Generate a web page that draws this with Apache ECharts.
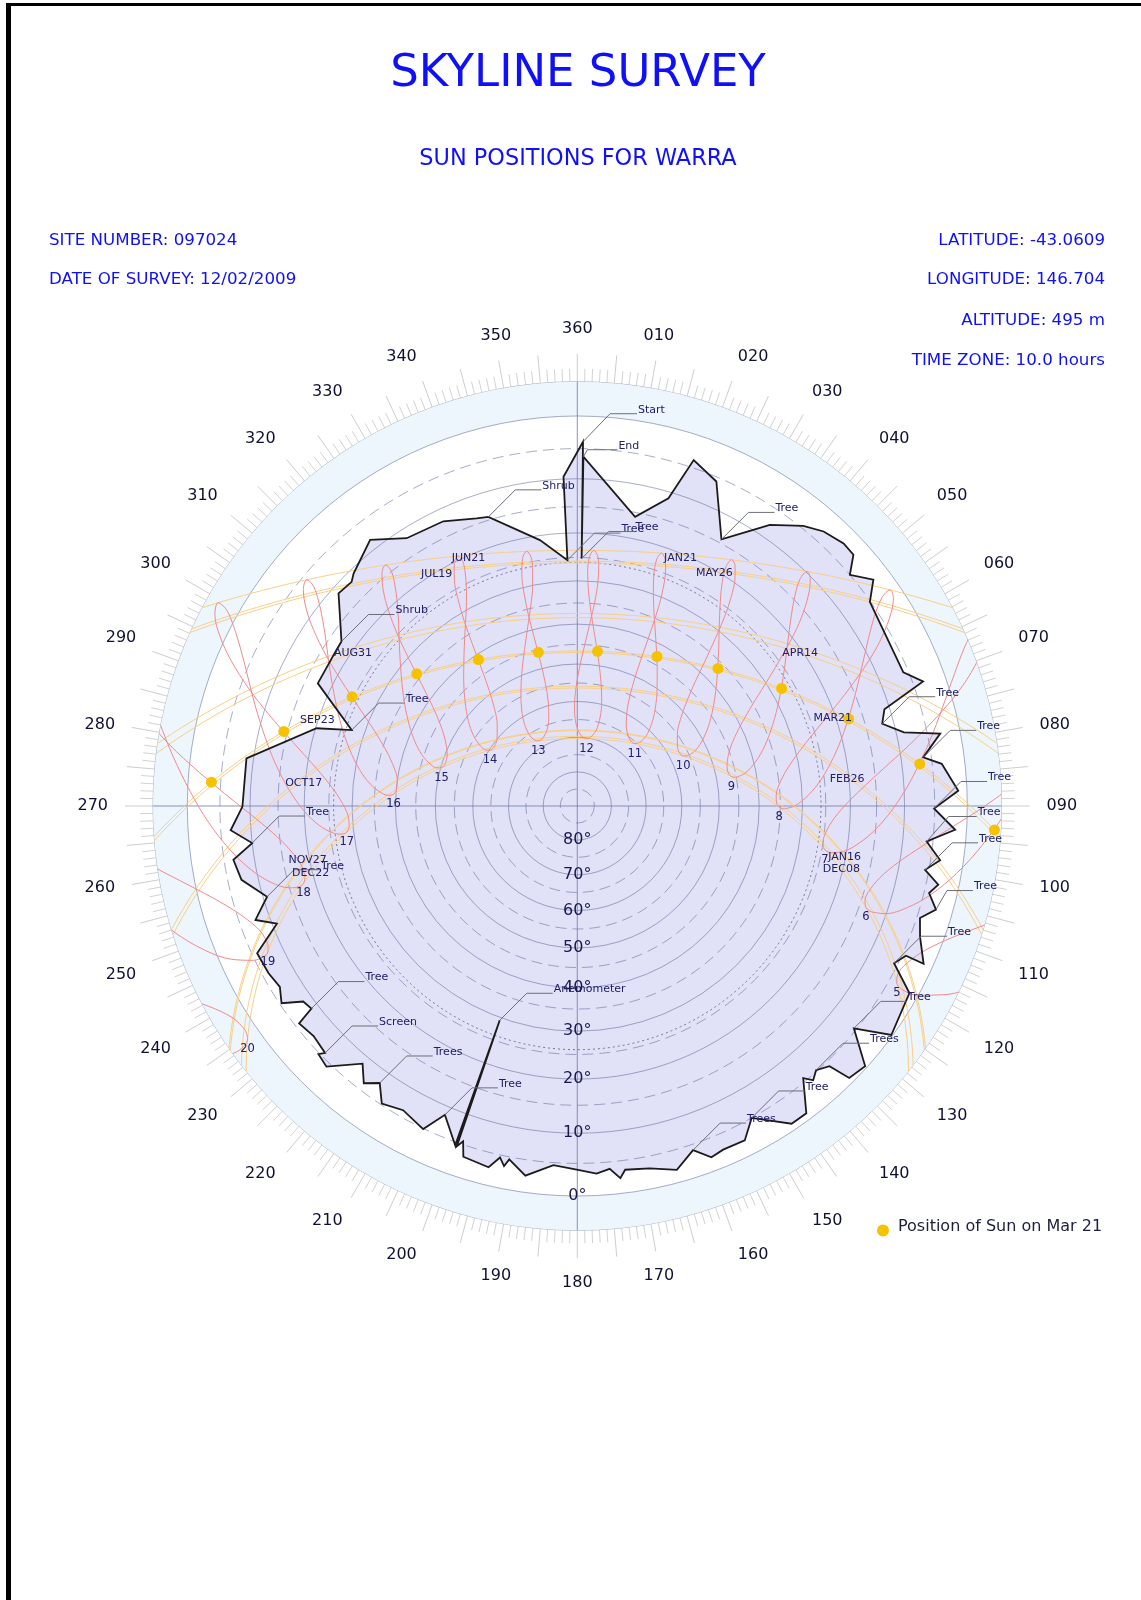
<!DOCTYPE html>
<html>
<head>
<meta charset="utf-8">
<script src="https://cdn.jsdelivr.net/npm/echarts@6/dist/echarts.min.js"></script>
<style>
  html, body { margin: 0; padding: 0; background: #fff; }
  #frame { position: absolute; left: 6px; top: 3px; width: 1300px; height: 1700px;
           border-left: 5px solid #000; border-top: 3px solid #000; }
  #chart { position: absolute; left: 0; top: 0; width: 1141px; height: 1600px; }
</style>
</head>
<body>
<div id="frame"></div>
<div id="chart"></div>
<script>
"use strict";

// site values printed on the chart
var SITE_LAT = -43.0609, SITE_LON = 146.704, SITE_TZ = 10.0;

// skyline: azimuth (deg) / elevation (deg) of the horizon, from Start going west
var SKY_AZ = [0.9, 357.6, 357.7, 352.0, 342.9, 340.7, 334.8, 327.5, 322.1, 316.1,
  314.8, 311.7, 304.9, 303.0, 295.3, 288.6, 286.6, 278.2, 269.9, 266.0,
  263.5, 261.1, 257.6, 253.7, 250.5, 248.6, 245.3, 241.6, 238.7, 236.3,
  234.5, 232.7, 232.0, 228.9, 225.6, 226.2, 223.9, 219.8, 217.6, 215.5,
  213.3, 209.8, 205.5, 203.2, 199.8, 199.9, 199.5, 198.8, 198.0, 193.8,
  192.4, 191.5, 190.9, 188.0, 183.8, 180.1, 177.0, 174.9, 173.4, 172.5,
  168.7, 164.7, 161.4, 159.1, 157.0, 153.4, 150.8, 146.0, 143.3, 140.3,
  139.3, 137.9, 135.9, 135.0, 132.1, 128.8, 126.1, 119.4, 116.4, 114.5,
  114.5, 110.9, 108.1, 106.1, 103.9, 102.3, 100.4, 98.5, 95.8, 93.6,
  90.4, 87.7, 83.4, 82.0, 78.7, 77.3, 74.9, 72.5, 70.2, 67.7,
  55.1, 52.6, 49.7, 47.7, 45.4, 41.9, 38.9, 34.4, 32.3, 28.4,
  23.2, 18.6, 16.5, 11.3, 1.0, 1.0];
var SKY_ALT = [3.9, 9.6, 25.5, 20.9, 14.4, 14.0, 12.2, 11.7, 8.3, 10.8,
  11.6, 11.3, 17.2, 17.3, 17.3, 27.2, 20.2, 8.8, 8.7, 6.6,
  10.0, 6.5, 7.2, 10.7, 7.6, 10.8, 5.8, 6.0, 6.5, 5.3,
  8.4, 8.8, 5.7, 6.2, 5.7, 4.8, 4.3, 8.6, 6.2, 7.8,
  5.2, 6.1, 4.9, 8.5, 4.5, 29.4, 4.4, 5.5, 3.2, 2.7,
  4.6, 3.4, 4.6, 2.5, 4.6, 4.0, 3.3, 3.9, 2.3, 3.5,
  3.1, 1.9, 4.1, 2.1, 2.5, 2.4, 5.0, 1.0, 1.0, 5.6,
  4.3, 5.2, 4.2, 0.8, 0.3, 5.4, 0.2, 1.3, 5.6, 4.4,
  1.4, 3.5, 4.5, 2.5, 4.2, 3.1, 5.6, 3.5, 6.0, 1.7,
  5.1, 1.3, 3.5, 6.3, 3.0, 8.7, 12.0, 10.9, 3.4, 5.8,
  5.1, 2.6, 5.0, 2.5, 2.4, 3.2, 4.6, 7.7, 10.2, 14.3,
  5.7, 3.8, 11.1, 15.8, 6.3, 25.2];

// obstruction notes and the skyline point each one points at
var NOTE_TEXT = ['Start', 'End', 'Shrub', 'Tree', 'Tree', 'Tree', 'Shrub', 'Tree', 'Tree', 'Tree',
  'Tree', 'Tree', 'Tree', 'Tree', 'Tree', 'Tree', 'Trees', 'Tree', 'Trees', 'Anemometer',
  'Tree', 'Trees', 'Screen', 'Tree', 'Tree', 'Tree'];
var NOTE_AT = [0, 114, 4, 2, 115, 109, 12, 15, 96, 93,
  90, 88, 86, 83, 78, 75, 71, 66, 62, 45,
  43, 39, 34, 31, 23, 20];

// year samples for the analemmas: declination (deg) and equation of time (min)
var YEAR_DATES = ['Jan 1', 'Jan 16', 'Feb 1', 'Feb 15', 'Mar 1', 'Mar 15', 'Apr 1', 'Apr 15', 'May 1',
  'May 15', 'Jun 1', 'Jun 21', 'Jul 8', 'Jul 22', 'Aug 8', 'Aug 22', 'Sep 5', 'Sep 19', 'Oct 3',
  'Oct 17', 'Nov 1', 'Nov 15', 'Dec 1', 'Dec 12', 'Dec 22'];
var YEAR_DECL = [-23.0, -21.0, -17.2, -12.9, -7.8, -2.4, 4.3, 9.7, 15.0,
  18.8, 22.0, 23.44, 22.4, 20.2, 16.1, 11.8, 6.8, 1.3, -4.0,
  -9.4, -14.3, -18.4, -21.7, -23.0, -23.44];
var YEAR_EOT = [-3.3, -9.6, -13.5, -14.2, -12.4, -9.0, -4.0, 0.0, 2.9,
  3.7, 2.3, -1.6, -5.0, -6.3, -5.6, -3.0, 1.3, 6.2, 10.9,
  14.6, 16.4, 15.4, 11.0, 6.5, 1.7];

// sun path dates and their declinations
var PATH_NAMES = ['JUN21', 'JUL19', 'AUG31', 'SEP23', 'OCT17', 'NOV27', 'DEC22',
  'MAY26', 'APR14', 'MAR21', 'FEB26', 'JAN16', 'DEC08'];
var PATH_DECL = [23.44, 20.8, 8.5, -0.1, -9.4, -21.2, -23.44,
  21.2, 9.5, 0.3, -8.9, -21.0, -22.8];

var HOURS = [5, 6, 7, 8, 9, 10, 11, 12, 13, 14, 15, 16, 17, 18, 19, 20];
var MAR21_DECL = 0.3, MAR21_EOT = -7.3;
var DEC22_DECL = -23.44, DEC22_EOT = 1.7;

// date labels along the paths (azimuth, elevation)
var DATE_LABELS = ['JUN21', 'JUL19', 'AUG31', 'SEP23', 'OCT17', 'NOV27', 'DEC22',
  'JAN21', 'MAY26', 'APR14', 'MAR21', 'FEB26', 'JAN16', 'DEC08'];
var DATE_LABEL_AZ = [336.3, 328.8, 304.3, 288.2, 274.8, 258.6, 255.8,
  22.6, 30.5, 55.6, 71.1, 84.4, 100.8, 103.5];
var DATE_LABEL_ALT = [20.5, 20.3, 20.3, 19.9, 19.7, 19.6, 19.6,
  20.9, 20.6, 20.6, 20.6, 20.4, 20.2, 20.3];

var ALT_LABELS = [0, 10, 20, 30, 40, 50, 60, 70, 80];
var GRID_ALTS = [0, 5, 10, 15, 20, 25, 30, 35, 40, 45, 50, 55, 60, 65, 70, 75, 80, 85];
var DOTTED_ALT = 26;

// layout
var CX = 577.3, CY = 806, R_OUT = 424.3, R_HOR = 390;
var R_MAX = R_OUT / R_HOR;
var NOTE_OFFSET = { 0: [27, -28, 54, -28], 1: [4, -7, 34, -7], 11: [22, -25, 50, -25], 13: [11, -19, 37, -19] };
var FONT = '"DejaVu Sans", Verdana, sans-serif';
var NAVY = '#20206a';
var CLEAR = 'rgba(0,0,0,0)';

var D2R = Math.PI / 180;
// stereographic: zenith at centre, horizon at radius 1
function rad(alt) { return Math.tan((90 - alt) / 2 * D2R); }

function sunPos(decl, eot, clock) {
  var H = (15 * (clock - 12) + (SITE_LON - 15 * SITE_TZ) + eot / 4) * D2R;
  var phi = SITE_LAT * D2R, dec = decl * D2R;
  var e = -Math.cos(dec) * Math.sin(H);
  var n = Math.sin(dec) * Math.cos(phi) - Math.cos(dec) * Math.sin(phi) * Math.cos(H);
  var u = Math.sin(dec) * Math.sin(phi) + Math.cos(dec) * Math.cos(phi) * Math.cos(H);
  var az = Math.atan2(e, n) / D2R;
  if (az < 0) az += 360;
  return [rad(Math.asin(u) / D2R), az];
}

var chart = echarts.init(document.getElementById('chart'));
var series = [];

// light blue ring below the horizon
series.push({
  type: 'custom', coordinateSystem: 'polar', silent: true, z: 1, data: [[0, 0]],
  renderItem: function (params, api) {
    var c = api.coord([0, 0]);
    var pIn = api.coord([1, 0]), pOut = api.coord([R_MAX, 0]);
    return { type: 'ring', shape: { cx: c[0], cy: c[1], r: c[1] - pOut[1], r0: c[1] - pIn[1] },
      style: { fill: '#edf5fd' } };
  }
});

// skyline fill
series.push({
  type: 'custom', coordinateSystem: 'polar', silent: true, z: 2, data: [[0, 0]],
  renderItem: function (params, api) {
    var pts = SKY_AZ.map(function (az, i) { return api.coord([rad(SKY_ALT[i]), az]); });
    return { type: 'polygon', shape: { points: pts }, style: { fill: '#e1e1f7' } };
  }
});

// elevation circles and the N-S / E-W lines
series.push({
  type: 'custom', coordinateSystem: 'polar', silent: true, z: 3, data: [[0, 0]],
  renderItem: function (params, api) {
    var c = api.coord([0, 0]);
    var kids = GRID_ALTS.map(function (a) {
      var p = api.coord([rad(a), 0]);
      return { type: 'circle', shape: { cx: c[0], cy: c[1], r: c[1] - p[1] },
        style: { fill: 'none', stroke: 'rgba(95,105,155,0.55)', lineWidth: 1,
          lineDash: a % 10 ? [11, 6] : null } };
    });
    var pd = api.coord([rad(DOTTED_ALT), 0]);
    kids.push({ type: 'circle', shape: { cx: c[0], cy: c[1], r: c[1] - pd[1] },
      style: { fill: 'none', stroke: 'rgba(70,70,110,0.7)', lineWidth: 1, lineDash: [2, 3] } });
    [[0, 180], [90, 270]].forEach(function (pr) {
      var a = api.coord([R_MAX, pr[0]]), b = api.coord([R_MAX, pr[1]]);
      kids.push({ type: 'line', shape: { x1: a[0], y1: a[1], x2: b[0], y2: b[1] },
        style: { stroke: 'rgba(110,120,170,0.8)', lineWidth: 1 } });
    });
    return { type: 'group', children: kids };
  }
});

// sun paths
PATH_NAMES.forEach(function (name, i) {
  var pts = [];
  for (var t = 3; t <= 21.001; t += 0.1) pts.push(sunPos(PATH_DECL[i], 0, t));
  series.push({
    name: name, type: 'line', coordinateSystem: 'polar', data: pts, symbol: 'none',
    silent: true, clip: true, z: 4, lineStyle: { color: '#f8cf86', width: 1 }
  });
});

// analemmas, one per hour
HOURS.forEach(function (h) {
  var pts = YEAR_DECL.map(function (d, j) { return sunPos(d, YEAR_EOT[j], h); });
  pts.push(pts[0]);
  series.push({
    name: 'h' + h, type: 'line', coordinateSystem: 'polar', data: pts, symbol: 'none',
    smooth: 0.35, silent: true, clip: true, z: 4, lineStyle: { color: '#f08a8a', width: 1 }
  });
});

// skyline outline
series.push({
  type: 'custom', coordinateSystem: 'polar', silent: true, z: 5, data: [[0, 0]],
  renderItem: function (params, api) {
    var pts = SKY_AZ.map(function (az, i) { return api.coord([rad(SKY_ALT[i]), az]); });
    return { type: 'polygon', shape: { points: pts },
      style: { fill: 'none', stroke: '#1b1b1b', lineWidth: 1.8, lineJoin: 'miter' } };
  }
});

// obstruction notes with leader lines
series.push({
  type: 'custom', coordinateSystem: 'polar', silent: true, z: 6, data: [[0, 0]],
  renderItem: function (params, api) {
    var kids = [];
    NOTE_TEXT.forEach(function (t, i) {
      var k = NOTE_AT[i];
      var a = api.coord([rad(SKY_ALT[k]), SKY_AZ[k]]);
      var o = NOTE_OFFSET[i] || [27, -27, 53, -27];
      kids.push({ type: 'polyline',
        shape: { points: [a, [a[0] + o[0], a[1] + o[1]], [a[0] + o[2], a[1] + o[3]]] },
        style: { fill: 'none', stroke: '#6e6e78', lineWidth: 1 } });
      kids.push({ type: 'text', style: { text: t, x: a[0] + o[2] + 1, y: a[1] + o[3] - 4,
        fill: NAVY, font: '11px ' + FONT, align: 'left', verticalAlign: 'middle',
        textAlign: 'left', textVerticalAlign: 'middle' } });
    });
    return { type: 'group', children: kids };
  }
});

// sun on Mar 21
var marDots = HOURS.map(function (h) { return sunPos(MAR21_DECL, MAR21_EOT, h); })
  .filter(function (p) { return p[0] <= R_MAX; });
series.push({
  name: 'Position of Sun on Mar 21', type: 'scatter', coordinateSystem: 'polar',
  data: marDots, symbolSize: 11, z: 7, itemStyle: { color: '#f5c200', opacity: 1 }
});

// hour numbers under each analemma
series.push({
  type: 'scatter', coordinateSystem: 'polar', silent: true, z: 8, symbolSize: 2,
  itemStyle: { color: CLEAR, opacity: 1 },
  data: HOURS.map(function (h) { return { name: String(h), value: sunPos(DEC22_DECL, DEC22_EOT, h) }; }),
  label: { show: true, position: 'bottom', distance: 3, formatter: '{b}',
    color: NAVY, fontSize: 11.5, fontFamily: FONT }
});

// date labels
series.push({
  type: 'scatter', coordinateSystem: 'polar', silent: true, z: 8, symbolSize: 2,
  itemStyle: { color: CLEAR, opacity: 1 },
  data: DATE_LABELS.map(function (n, i) { return { name: n, value: [rad(DATE_LABEL_ALT[i]), DATE_LABEL_AZ[i]] }; }),
  label: { show: true, position: 'inside', formatter: '{b}', color: NAVY, fontSize: 11, fontFamily: FONT }
});

// elevation labels
series.push({
  type: 'scatter', coordinateSystem: 'polar', silent: true, z: 8, symbolSize: 2,
  itemStyle: { color: CLEAR, opacity: 1 },
  data: ALT_LABELS.map(function (a) { return { name: a + '\u00b0', value: [rad(a), 180] }; }),
  label: { show: true, position: 'inside', formatter: '{b}', color: '#181850', fontSize: 16, fontFamily: FONT }
});

function headText(text, x, y, size, align) {
  return { type: 'text', x: x, y: y, style: { text: text, fill: '#1010f8', font: size + 'px ' + FONT,
    textAlign: align, textVerticalAlign: 'middle', align: align, verticalAlign: 'middle' } };
}

var option = {
  backgroundColor: 'transparent',
  animation: false,
  polar: { center: [CX, CY], radius: R_OUT },
  angleAxis: {
    type: 'value', min: 0, max: 360, interval: 5, startAngle: 90, clockwise: true,
    axisLine: { lineStyle: { color: '#a9b3c4', width: 1 } },
    axisTick: { length: 28, lineStyle: { color: '#cdcdcd' } },
    minorTick: { show: true, splitNumber: 5, length: 13, lineStyle: { color: '#d2d2d2' } },
    axisLabel: {
      margin: 45, color: '#0f0f33', fontSize: 16, fontFamily: FONT,
      formatter: function (v) {
        if (v % 10 !== 0) return '';
        if (v === 0 || v === 360) return '360';
        return ('00' + v).slice(-3);
      }
    },
    splitLine: { show: false }
  },
  radiusAxis: {
    type: 'value', min: 0, max: R_MAX,
    axisLine: { show: false }, axisTick: { show: false }, axisLabel: { show: false }, splitLine: { show: false }
  },
  legend: {
    data: ['Position of Sun on Mar 21'], left: 872, top: 1214, icon: 'circle',
    itemWidth: 12, itemHeight: 12,
    formatter: '{t|{name}}',
    textStyle: { fontSize: 16, color: '#1d1d3d', fontFamily: FONT,
      rich: { t: { fontSize: 16, color: '#1d1d3d', fontFamily: FONT, padding: [0, 0, 7, 4] } } }
  },
  graphic: [
    headText('SKYLINE SURVEY', 578, 74, 45, 'center'),
    headText('SUN POSITIONS FOR WARRA', 578, 159, 22.4, 'center'),
    headText('SITE NUMBER: 097024', 49, 241, 16.7, 'left'),
    headText('DATE OF SURVEY: 12/02/2009', 49, 280, 16.7, 'left'),
    headText('LATITUDE: -43.0609', 1105, 241, 16.7, 'right'),
    headText('LONGITUDE: 146.704', 1105, 280, 16.7, 'right'),
    headText('ALTITUDE: 495 m', 1105, 320.5, 16.7, 'right'),
    headText('TIME ZONE: 10.0 hours', 1105, 360.5, 16.7, 'right')
  ],
  series: series
};

chart.setOption(option);
</script>
</body>
</html>
